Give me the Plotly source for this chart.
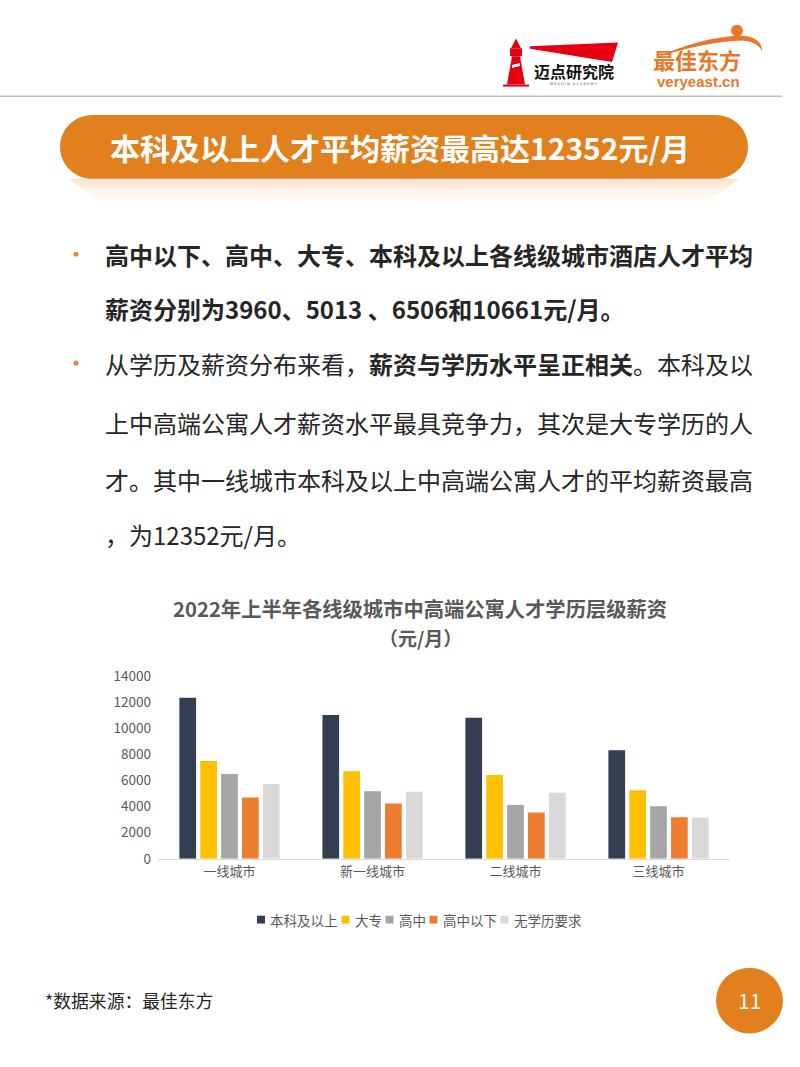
import plotly.graph_objects as go

W, H = 800, 1067

# ---------------- data ----------------
cities = ["一线城市", "新一线城市", "二线城市", "三线城市"]
series_names = ["本科及以上", "大专", "高中", "高中以下", "无学历要求"]
s_bachelor = [12352, 11040, 10820, 8320]
s_college = [7510, 6720, 6420, 5260]
s_highschool = [6510, 5180, 4130, 4030]
s_below_hs = [4710, 4240, 3560, 3180]
s_no_req = [5740, 5140, 5060, 3160]
series_values = [s_bachelor, s_college, s_highschool, s_below_hs, s_no_req]
series_colors = ["#333F50", "#FFC000", "#A5A5A5", "#ED7D31", "#D9D9D9"]
y_ticks = [0, 2000, 4000, 6000, 8000, 10000, 12000, 14000]

FONT = "Noto Sans CJK SC"
ORANGE = "#E2801E"


def px(x):
    return x / W


def py(y):
    return 1 - y / H


def path(points, close=True):
    s = "M " + " L ".join(f"{px(x)},{py(y)}" for x, y in points)
    return s + (" Z" if close else "")


fig = go.Figure()
for name, vals, col in zip(series_names, series_values, series_colors):
    fig.add_trace(go.Bar(x=cities, y=vals, name=name, showlegend=False,
                         marker=dict(color=col, line=dict(width=0))))

shapes = []
annotations = []

# header line
shapes.append(dict(type="line", xref="paper", yref="paper", x0=px(0), x1=px(782), y0=py(87), y1=py(87),
                   line=dict(color="#BFBFBF", width=1.5)))

# lighthouse logo (approximation)
RED = "#E60012"
shapes.append(dict(type="path", xref="paper", yref="paper",
                   path=path([(507, 75), (512, 46), (520, 46), (525, 75)]), fillcolor=RED, line=dict(width=0)))
shapes.append(dict(type="path", xref="paper", yref="paper",
                   path=path([(510, 46), (510, 38), (522, 38), (522, 46)]), fillcolor=RED, line=dict(width=0)))
shapes.append(dict(type="path", xref="paper", yref="paper",
                   path=path([(511, 38), (516, 28), (521, 38)]), fillcolor=RED, line=dict(width=0)))
shapes.append(dict(type="path", xref="paper", yref="paper",
                   path=path([(503, 75), (529, 75), (529, 77), (503, 77)]), fillcolor=RED, line=dict(width=0)))
shapes.append(dict(type="path", xref="paper", yref="paper",
                   path=path([(512, 55), (520, 53), (520, 56), (512, 58)]), fillcolor="white", line=dict(width=0)))
# red wedge
shapes.append(dict(type="path", xref="paper", yref="paper",
                   path=path([(530, 36), (618, 32), (612, 52), (530, 38.5)]), fillcolor=RED, line=dict(width=0)))
annotations.append(dict(text="<b>迈点研究院</b>", x=px(574), y=py(61), xref="paper", yref="paper",
                        showarrow=False, font=dict(family=FONT, size=16, color="#111111"),
                        xanchor="center", yanchor="middle"))
annotations.append(dict(text="M E A D I N   A C A D E M Y", x=px(574), y=py(74), xref="paper", yref="paper",
                        showarrow=False, font=dict(family="DejaVu Sans", size=3.5, color="#444444"),
                        xanchor="center", yanchor="middle"))

# veryeast logo
LOGO_OR = "#E8772A"
swoosh = (f"M {px(655)},{py(48)} Q {px(700)},{py(27)} {px(740)},{py(25)} "
          f"Q {px(762)},{py(26)} {px(762)},{py(41)} Q {px(758)},{py(31)} {px(742)},{py(30)} "
          f"Q {px(705)},{py(31)} {px(655)},{py(48)} Z")
shapes.append(dict(type="path", xref="paper", yref="paper", path=swoosh, fillcolor=LOGO_OR, line=dict(width=0)))
shapes.append(dict(type="circle", xref="paper", yref="paper", x0=px(731), x1=px(743), y0=py(26), y1=py(14),
                   fillcolor=LOGO_OR, line=dict(width=0)))
annotations.append(dict(text="<b>最佳东方</b>", x=px(697), y=py(49), xref="paper", yref="paper",
                        showarrow=False, font=dict(family=FONT, size=22, color=LOGO_OR),
                        xanchor="center", yanchor="middle"))
annotations.append(dict(text="<b>veryeast.cn</b>", x=px(698), y=py(72), xref="paper", yref="paper",
                        showarrow=False, font=dict(family="Liberation Sans", size=15, color=LOGO_OR),
                        xanchor="center", yanchor="middle"))

# banner reflection (smooth fade)
steps = 24
for i in range(steps):
    y0 = 171 + i * 1.2
    inset = 10 + i * 1.6
    shapes.append(dict(type="rect", xref="paper", yref="paper", x0=px(60 + inset), x1=px(748 - inset),
                       y0=py(y0 + 1.25), y1=py(y0), fillcolor=ORANGE,
                       opacity=max(0.2 * (1 - i / steps) ** 1.5, 0.005),
                       line=dict(width=0), layer="below"))

# banner pill (quarter-circle ends)
x0b, x1b, y0b, y1b = 60, 748, 106, 171
r = (y1b - y0b) / 2
k = 0.5523 * r
cyb = (y0b + y1b) / 2


def P(x, y):
    return f"{px(x)},{py(y)}"


pill = (f"M {P(x0b + r, y0b)} L {P(x1b - r, y0b)} "
        f"C {P(x1b - r + k, y0b)} {P(x1b, cyb - k)} {P(x1b, cyb)} "
        f"C {P(x1b, cyb + k)} {P(x1b - r + k, y1b)} {P(x1b - r, y1b)} "
        f"L {P(x0b + r, y1b)} "
        f"C {P(x0b + r - k, y1b)} {P(x0b, cyb + k)} {P(x0b, cyb)} "
        f"C {P(x0b, cyb - k)} {P(x0b + r - k, y0b)} {P(x0b + r, y0b)} Z")
shapes.append(dict(type="path", xref="paper", yref="paper", path=pill, fillcolor=ORANGE, line=dict(width=0)))
annotations.append(dict(text="<b>本科及以上人才平均薪资最高达12352元/月</b>", x=px(400), y=py(139),
                        xref="paper", yref="paper", showarrow=False,
                        font=dict(family=FONT, size=30, color="white"), xanchor="center", yanchor="middle"))

# bullet text
TXT = "#262626"
lines = [
    (248, "<b>高中以下、高中、大专、本科及以上各线级城市酒店人才平均</b>"),
    (303, "<b>薪资分别为3960、5013 、6506和10661元/月。</b>"),
    (359, "从学历及薪资分布来看，<b>薪资与学历水平呈正相关</b>。本科及以"),
    (419, "上中高端公寓人才薪资水平最具竞争力，其次是大专学历的人"),
    (477, "才。其中一线城市本科及以上中高端公寓人才的平均薪资最高"),
    (533, "，为12352元/月。"),
]
for yy, t in lines:
    annotations.append(dict(text=t, x=px(103), y=py(yy), xref="paper", yref="paper", showarrow=False,
                            font=dict(family=FONT, size=24, color=TXT), xanchor="left", yanchor="middle"))
for yy in (248, 359):
    shapes.append(dict(type="circle", xref="paper", yref="paper", x0=px(73.5), x1=px(78.5),
                       y0=py(yy + 2.5), y1=py(yy - 2.5), fillcolor="#ED7D31", line=dict(width=0)))

# chart title (two lines)
annotations.append(dict(text="<b>2022年上半年各线级城市中高端公寓人才学历层级薪资</b>",
                        x=px(420), y=py(608), xref="paper", yref="paper", showarrow=False, borderpad=0,
                        font=dict(family=FONT, size=20.3, color="#595959"), xanchor="center", yanchor="middle"))
annotations.append(dict(text="<b>（元/月）</b>",
                        x=px(420), y=py(638), xref="paper", yref="paper", showarrow=False, borderpad=0,
                        font=dict(family=FONT, size=19, color="#595959"), xanchor="center", yanchor="middle"))

# legend (drawn manually for compact spacing)
LEG_FS = 13.5
cursor = 257
for name, col in zip(series_names, series_colors):
    shapes.append(dict(type="rect", xref="paper", yref="paper", x0=px(cursor), x1=px(cursor + 8),
                       y0=py(930), y1=py(922), fillcolor=col, line=dict(width=0)))
    annotations.append(dict(text=name, x=px(cursor + 11), y=py(926), xref="paper", yref="paper",
                            showarrow=False, font=dict(family=FONT, size=LEG_FS, color="#595959"),
                            xanchor="left", yanchor="middle"))
    cursor += 8 + 4 + len(name) * LEG_FS + 5

# footer
annotations.append(dict(text="*数据来源：最佳东方", x=px(43), y=py(1008), xref="paper", yref="paper",
                        showarrow=False, font=dict(family=FONT, size=17.8, color=TXT),
                        xanchor="left", yanchor="middle"))
shapes.append(dict(type="circle", xref="paper", yref="paper", x0=px(716), x1=px(783), y0=py(1042), y1=py(975),
                   fillcolor=ORANGE, line=dict(width=0)))
annotations.append(dict(text="11", x=px(749.5), y=py(1008), xref="paper", yref="paper", showarrow=False,
                        font=dict(family=FONT, size=21, color="white"), xanchor="center", yanchor="middle"))

fig.update_layout(
    width=W, height=H,
    margin=dict(l=0, r=0, t=0, b=0),
    paper_bgcolor="white", plot_bgcolor="white",
    font=dict(family=FONT, color="#595959"),
    barmode="group", bargap=0.27, bargroupgap=0.2,
    showlegend=False,
    shapes=shapes, annotations=annotations,
    xaxis=dict(domain=[px(158), px(730)], showline=True, linecolor="#D9D9D9", linewidth=1.2,
               showgrid=False, ticks="", tickfont=dict(family=FONT, size=13, color="#595959"),
               fixedrange=True),
    yaxis=dict(domain=[py(864), py(678)], range=[0, 14000], tickvals=y_ticks, tickformat="d",
               showgrid=False, zeroline=False, showline=False, ticks="", ticklabelstandoff=6,
               tickfont=dict(family=FONT, size=13.5, color="#595959"), fixedrange=True),
)

post = ("document.documentElement.style.margin='0';document.body.style.margin='0';"
        "document.body.style.overflow='hidden';"
        "var gd=document.querySelector('.plotly-graph-div');"
        "gd.style.position='fixed';gd.style.top='0px';gd.style.left='0px';")
fig.write_html("out.html", config=dict(displayModeBar=False), post_script=post)
